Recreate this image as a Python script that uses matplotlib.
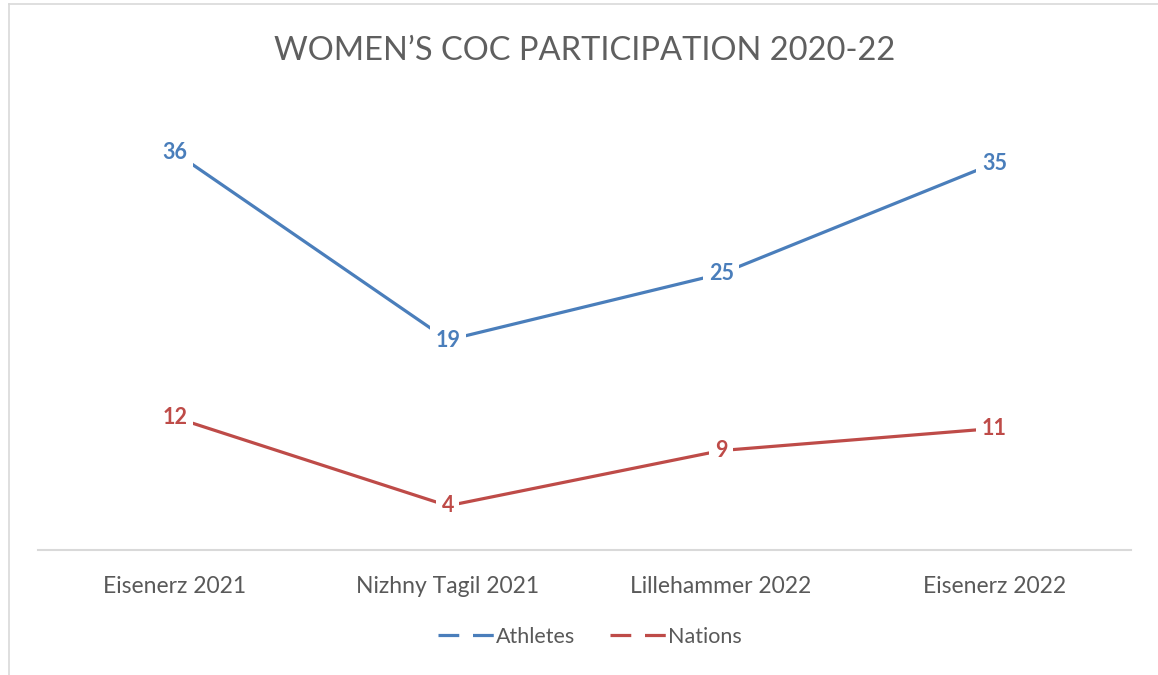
import matplotlib.pyplot as plt
from matplotlib.lines import Line2D

# Chart data
events = ["Eisenerz 2021", "Nizhny Tagil 2021", "Lillehammer 2022", "Eisenerz 2022"]
athletes = [36, 19, 25, 35]
nations = [12, 4, 9, 11]

blue = "#4A7EBB"
red = "#BE4B48"
grey_text = "#595959"
grey_line = "#D9D9D9"

plt.rcParams["font.family"] = ["Lato", "DejaVu Sans"]

fig = plt.figure(figsize=(11.58, 6.75), dpi=100)
ax = fig.add_axes([38 / 1158, 1 - 550 / 675, (1131 - 38) / 1158, (550 - 108) / 675])

x = [i + 0.5 for i in range(len(events))]
ax.plot(x, athletes, color=blue, lw=2.3, solid_capstyle="round", zorder=2)
ax.plot(x, nations, color=red, lw=2.3, solid_capstyle="round", zorder=2)

# data labels sit on the points with a white box that hides the line
for series, col in [(athletes, blue), (nations, red)]:
    for xi, v in zip(x, series):
        ax.text(xi, v, str(v), color=col, fontsize=15.5, fontweight="bold",
                ha="center", va="center", zorder=3,
                bbox=dict(boxstyle="square,pad=0.25", fc="white", ec="none"))

ax.set_xlim(0, len(events))
ax.set_ylim(0, 40)
ax.set_xticks(x)
ax.set_xticklabels(events, fontsize=16.5, color=grey_text)
ax.tick_params(axis="x", length=0, pad=19)
ax.set_yticks([])
for s in ["top", "right", "left"]:
    ax.spines[s].set_visible(False)
ax.spines["bottom"].set_color(grey_line)
ax.spines["bottom"].set_linewidth(1.5)

fig.text(585 / 1158, 1 - 51 / 675, "WOMEN\u2019S COC PARTICIPATION 2020-22",
         ha="center", va="center", fontsize=23.5, color="#5f5f5f")

handles = [Line2D([], [], color=blue, lw=2.3, dashes=(6.5, 4.3)),
           Line2D([], [], color=red, lw=2.3, dashes=(6.5, 4.3))]
fig.legend(handles, ["Athletes", "Nations"], loc="center",
           bbox_to_anchor=(590 / 1158, 1 - 637 / 675), ncol=2, frameon=False,
           fontsize=15.5, labelcolor=grey_text, handlelength=2.6,
           handletextpad=0.1, columnspacing=1.6)

# chart frame edges visible on the left and top
fig.add_artist(Line2D([9 / 1158, 9 / 1158], [0, 1 - 4 / 675], color=grey_line, lw=1.2))
fig.add_artist(Line2D([9 / 1158, 1], [1 - 4 / 675, 1 - 4 / 675], color=grey_line, lw=1.2))

fig.savefig("out.png", dpi=100, facecolor="white")
